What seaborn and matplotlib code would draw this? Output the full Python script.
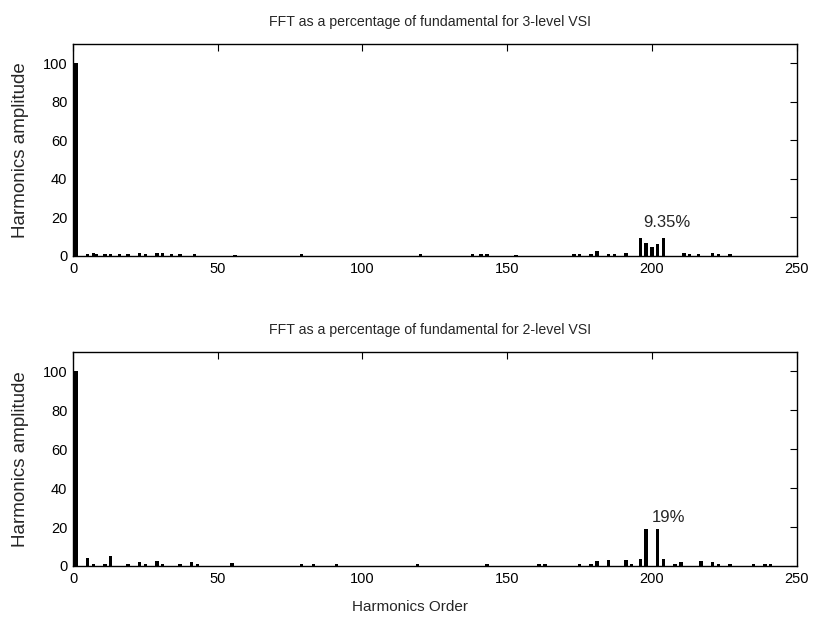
"""FFT harmonic spectra (percent of fundamental) for 3-level and 2-level VSI."""

import matplotlib

matplotlib.use("Agg")

import matplotlib.pyplot as plt
import pandas as pd
import seaborn as sns

# 3-level VSI: harmonic order and amplitude (% of fundamental)
h3_order = [0, 1, 5, 7, 8, 11, 13, 16, 19, 23, 25, 29, 31, 34, 37, 42, 56, 79,
            120, 138, 141, 143, 153, 173, 175, 179, 181, 185, 187, 191,
            196, 198, 200, 202, 204, 211, 213, 216, 221, 223, 227]
h3_amp = [4.0, 100.0, 0.8, 1.5, 1.2, 0.8, 1.0, 0.8, 1.2, 1.5, 1.0, 1.5, 1.5, 0.8, 0.8, 0.8, 0.6, 0.8,
          0.8, 0.8, 0.8, 0.8, 0.6, 0.8, 1.0, 1.0, 2.8, 1.0, 1.2, 1.5,
          9.1, 6.5, 4.5, 6.2, 9.35, 1.5, 0.8, 1.0, 1.8, 1.2, 0.8]

# 2-level VSI
h2_order = [0, 1, 5, 7, 11, 13, 19, 23, 25, 29, 31, 37, 41, 43, 55, 79, 83, 91,
            119, 143, 161, 163, 175, 179, 181, 185, 191, 193, 196, 198, 202, 204,
            208, 210, 217, 221, 223, 227, 235, 239, 241]
h2_amp = [4.0, 100.0, 4.0, 1.2, 0.8, 5.2, 0.8, 2.0, 1.0, 2.8, 1.0, 1.0, 1.8, 1.0, 1.3, 1.0, 1.0, 0.8,
          0.8, 0.8, 1.0, 1.0, 1.0, 1.0, 2.5, 3.0, 3.0, 1.0, 3.5, 19.0, 19.0, 3.5,
          1.0, 2.0, 2.5, 2.0, 1.2, 1.0, 0.8, 1.0, 0.8]

titles = ["FFT as a percentage of fundamental for 3-level VSI",
          "FFT as a percentage of fundamental for 2-level VSI"]
notes = [("9.35%", 197, 13.5), ("19%", 200, 21)]

sns.set_theme(style="white")
plt.rcParams["font.family"] = ["Liberation Sans", "DejaVu Sans"]

fig = plt.figure(figsize=(8.14, 6.21), dpi=100)
axes = [fig.add_axes([0.0897, 0.5878, 0.889, 0.341]),
        fig.add_axes([0.0897, 0.0886, 0.889, 0.3446])]

spectra = [pd.DataFrame({"order": h3_order, "amp": h3_amp}),
           pd.DataFrame({"order": h2_order, "amp": h2_amp})]

for ax, df, title, (txt, tx, ty) in zip(axes, spectra, titles, notes):
    sns.barplot(data=df, x="order", y="amp", native_scale=True, color="black",
                width=1.2, linewidth=0, errorbar=None, ax=ax)
    ax.set_xlim(0, 250)
    ax.set_ylim(0, 110)
    ax.set_xticks([0, 50, 100, 150, 200, 250])
    ax.set_yticks([0, 20, 40, 60, 80, 100])
    ax.tick_params(direction="in", length=5, width=0.8, top=True, right=True,
                   labelsize=10.5, colors="black", pad=4)
    for s in ax.spines.values():
        s.set_color("black")
        s.set_linewidth(1.0)
    ax.set_ylabel("Harmonics amplitude", fontsize=13.5, labelpad=10)
    ax.set_xlabel("")
    ax.set_title(title, fontsize=10.2, pad=13, x=0.494)
    ax.text(tx, ty, txt, ha="left", va="bottom", fontsize=12)

axes[1].set_xlabel("Harmonics Order", fontsize=11)
axes[1].xaxis.set_label_coords(0.465, -0.16)

fig.savefig("out.png", dpi=100, facecolor="white")
